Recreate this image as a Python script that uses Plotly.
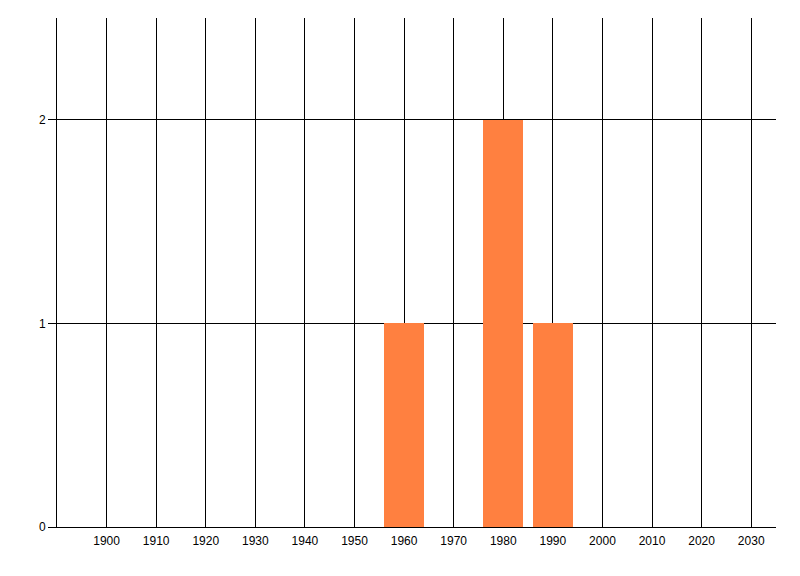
import plotly.graph_objects as go

years = [1960, 1980, 1990]
counts = [1, 2, 1]
x_ticks = list(range(1900, 2031, 10))
y_ticks = [0, 1, 2]

fig = go.Figure()
fig.add_trace(go.Bar(x=years, y=counts, width=8, marker=dict(color="#FF8040", line=dict(width=0))))

fig.update_layout(
    width=792, height=568,
    margin=dict(l=49, r=24, t=10, b=49),
    paper_bgcolor="white", plot_bgcolor="white",
    showlegend=False,
    font=dict(family="Liberation Sans Narrow, Liberation Sans", size=12, color="black"),
    bargap=0,
)
fig.update_xaxes(
    range=[1890, 2035], tickmode="array", tickvals=x_ticks,
    ticktext=[str(v) for v in x_ticks],
    showgrid=True, gridcolor="black", gridwidth=1,
    showline=True, linecolor="black", linewidth=1,
    ticks="", zeroline=False, automargin=False, ticklabelstandoff=3,
)
fig.update_yaxes(
    range=[0, 2.5], tickmode="array", tickvals=y_ticks,
    ticktext=[str(v) for v in y_ticks],
    showgrid=True, gridcolor="black", gridwidth=1,
    showline=True, linecolor="black", linewidth=1,
    ticks="outside", ticklen=8, tickcolor="black", zeroline=False, automargin=False,
)
fig.write_html("out.html")
